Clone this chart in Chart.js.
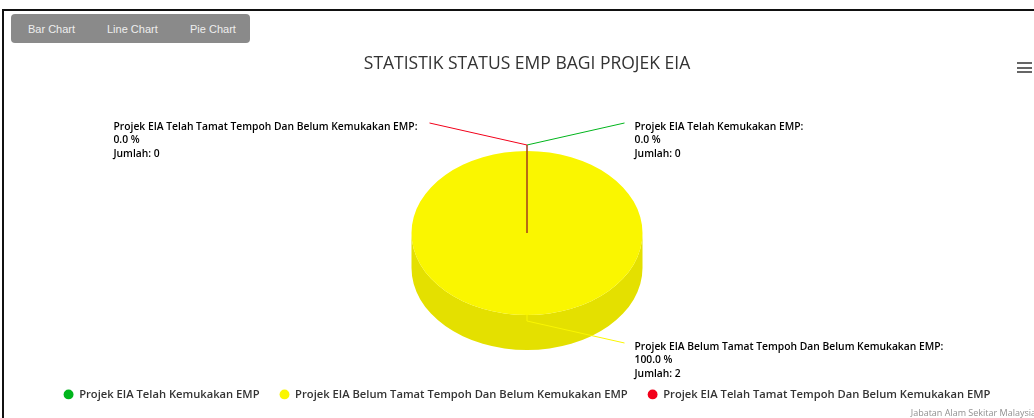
<!DOCTYPE html>
<html lang="ms">
<head>
<meta charset="UTF-8">
<title>Statistik Status EMP</title>
<script src="https://cdn.jsdelivr.net/npm/chart.js"></script>
<style>
  body { margin: 0; width: 1034px; height: 418px; overflow: hidden; background: #fff; position: relative; font-family: "Open Sans", sans-serif; }
  .frame { position: absolute; left: 2px; top: 9px; width: 1100px; height: 500px; border-top: 2px solid #111; border-left: 2px solid #111; }
  .switcher { position: absolute; left: 11px; top: 14px; width: 239px; height: 29px; background: #8a8a8a; border-radius: 4px; }
  .switcher span { position: absolute; top: 1px; line-height: 29px; font-family: Arial, "Liberation Sans", sans-serif; font-size: 11px; color: #eeeeee; }
  #wrap { position: absolute; left: 0; top: 0; width: 1034px; height: 410px; }
  .burger { position: absolute; left: 1017px; top: 62px; width: 15px; }
  .burger i { display: block; height: 2px; background: #666; margin-bottom: 2.5px; }
  .credits { position: absolute; right: -2px; top: 406px; font-size: 9px; color: #909090; }
</style>
</head>
<body>
<div class="frame"></div>
<div class="switcher">
  <span style="left:17px">Bar Chart</span>
  <span style="left:96px">Line Chart</span>
  <span style="left:179px">Pie Chart</span>
</div>
<div id="wrap"><canvas id="empChart" width="1034" height="410"></canvas></div>
<div class="burger"><i></i><i></i><i></i></div>
<div class="credits">Jabatan Alam Sekitar Malaysia</div>

<script>
const chartTitle = 'STATISTIK STATUS EMP BAGI PROJEK EIA';
const categories = [
  'Projek EIA Telah Kemukakan EMP',
  'Projek EIA Belum Tamat Tempoh Dan Belum Kemukakan EMP',
  'Projek EIA Telah Tamat Tempoh Dan Belum Kemukakan EMP'
];
const jumlah = [0, 2, 0];
const sliceColors = ['#00b51c', '#faf600', '#f2001a'];

const TILT = 0.71;   // vertical squash of the top face
const DEPTH = 35;    // thickness of the side wall
const FONT = '"Open Sans", "Noto Sans", sans-serif';

function shade(hex, f) {
  const n = parseInt(hex.slice(1), 16);
  const c = [(n >> 16) & 255, (n >> 8) & 255, n & 255].map(v => Math.round(v * f));
  return 'rgb(' + c.join(',') + ')';
}

// fake 3d pie: side wall underneath, squashed top face, connector labels on top
const pie3d = {
  id: 'pie3d',
  beforeDatasetsDraw(chart) {
    const ctx = chart.ctx;
    const arcs = chart.getDatasetMeta(0).data;
    arcs.forEach((arc, i) => {
      const {x, y, startAngle, endAngle, outerRadius: r} = arc;
      if (endAngle - startAngle <= 0) return;
      // only the front half (0..PI) of the wall can be seen
      for (let k = -1; k <= 1; k++) {
        const s = Math.max(startAngle, k * 2 * Math.PI);
        const e = Math.min(endAngle, k * 2 * Math.PI + Math.PI);
        if (e <= s) continue;
        ctx.beginPath();
        ctx.ellipse(x, y, r, r * TILT, 0, s, e);
        ctx.ellipse(x, y + DEPTH, r, r * TILT, 0, e, s, true);
        ctx.closePath();
        ctx.fillStyle = shade(sliceColors[i], 0.91);
        ctx.fill();
      }
    });
    ctx.save();
    const {x, y} = arcs[0];
    ctx.translate(x, y);
    ctx.scale(1, TILT);
    ctx.translate(-x, -y);
  },
  afterDatasetsDraw(chart) {
    const ctx = chart.ctx;
    ctx.restore();
    const arcs = chart.getDatasetMeta(0).data;
    const total = jumlah.reduce((a, b) => a + b, 0);
    arcs.forEach((arc, i) => {
      const {x, y, startAngle, endAngle, outerRadius: r} = arc;
      const mid = (startAngle + endAngle) / 2;
      const cos = Math.cos(mid), sin = Math.sin(mid);
      const side = (mid + Math.PI / 2) <= Math.PI + 1e-6 ? 1 : -1;
      const ax = x + r * cos, ay = y + r * TILT * sin;
      const bx = ax + 6 * cos, by = ay + 6 * sin;
      const ex = x + side * (r - 18), ey = ay + sin * 28;

      ctx.save();
      ctx.strokeStyle = sliceColors[i];
      ctx.lineWidth = 1;
      if (endAngle === startAngle) {
        // an empty slice still shows as a thin edge
        ctx.beginPath();
        ctx.moveTo(x, y);
        ctx.lineTo(ax, ay);
        ctx.stroke();
      }
      ctx.beginPath();
      ctx.moveTo(ax, ay);
      ctx.lineTo(bx, by);
      ctx.lineTo(ex, ey);
      ctx.stroke();

      const pct = total ? jumlah[i] / total * 100 : 0;
      const lines = [categories[i] + ':', pct.toFixed(1) + ' %', 'Jumlah: ' + jumlah[i]];
      ctx.font = '600 10.3px ' + FONT;
      ctx.fillStyle = '#000';
      ctx.textBaseline = 'middle';
      ctx.textAlign = 'left';
      const w = Math.max(...lines.map(t => ctx.measureText(t).width));
      const tx = side > 0 ? ex + 10 : ex - 12 - w;
      lines.forEach((t, n) => ctx.fillText(t, tx, ey + 4 + n * 13.4));
      ctx.restore();
    });
  }
};

new Chart(document.getElementById('empChart'), {
  type: 'pie',
  data: {
    labels: categories,
    datasets: [{
      data: jumlah,
      backgroundColor: sliceColors,
      borderWidth: 0,
      radius: 115.5
    }]
  },
  options: {
    responsive: false,
    animation: false,
    layout: { padding: { left: 20 } },
    plugins: {
      title: {
        display: true,
        text: chartTitle,
        color: '#333',
        font: { family: FONT, size: 17.5, weight: 'normal' },
        padding: { top: 54, bottom: 22.2 }
      },
      legend: {
        position: 'bottom',
        labels: {
          usePointStyle: true,
          pointStyle: 'circle',
          boxWidth: 10,
          boxHeight: 7,
          padding: 20,
          color: '#333',
          font: { family: FONT, size: 11.2, weight: 600 }
        }
      },
      tooltip: { enabled: false }
    }
  },
  plugins: [pie3d]
});
</script>
</body>
</html>
